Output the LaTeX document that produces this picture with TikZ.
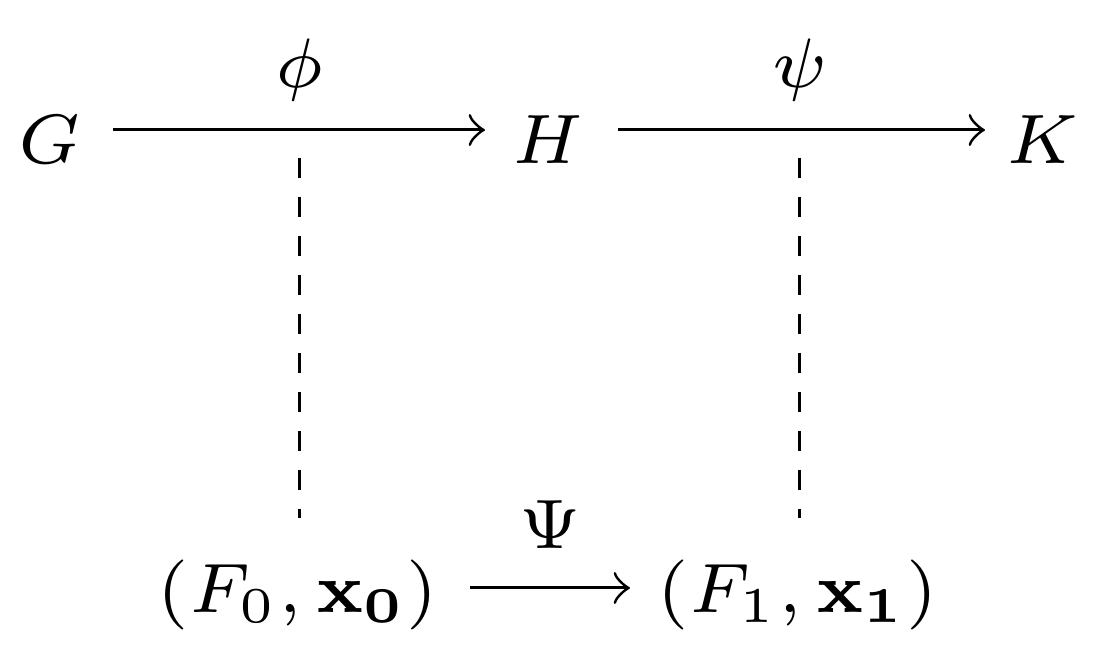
\documentclass[tikz,border=0pt]{standalone}
\begin{document}
\begin{tikzpicture}[x=0.1pt,y=-0.1pt,
  lbl/.style={inner sep=0pt,font=\fontsize{7.3}{9}\selectfont},
  arr/.style={->,line width=0.3pt},
  dsh/.style={line width=0.3pt,dash pattern=on 2pt off 1.9pt}]
\useasboundingbox (0,0) rectangle (1099,653);
\node[lbl] (G) at (50,140) {$G$};
\node[lbl] (H) at (548,140) {$H$};
\node[lbl] (K) at (1043,140) {$K$};
\node[lbl] (phi) at (300,70) {$\phi$};
\node[lbl] (psi) at (800,70) {$\psi$};
\node[lbl] (F0) at (298,595) {$(F_0,\mathbf{x_0})$};
\node[lbl] (F1) at (798,595) {$(F_1,\mathbf{x_1})$};
\node[lbl] (Psi) at (550,525) {$\Psi$};
\coordinate (a1) at (113,130); \coordinate (b1) at (485,130);
\coordinate (a2) at (618,130); \coordinate (b2) at (985,130);
\coordinate (a3) at (470,588); \coordinate (b3) at (630,588);
\draw[arr] (a1) -- (b1);
\draw[arr] (a2) -- (b2);
\draw[arr] (a3) -- (b3);
\coordinate (d1) at (300,158); \coordinate (e1) at (300,518);
\coordinate (d2) at (800,158); \coordinate (e2) at (800,518);
\draw[dsh] (d1) -- (e1);
\draw[dsh] (d2) -- (e2);
\end{tikzpicture}
\end{document}
